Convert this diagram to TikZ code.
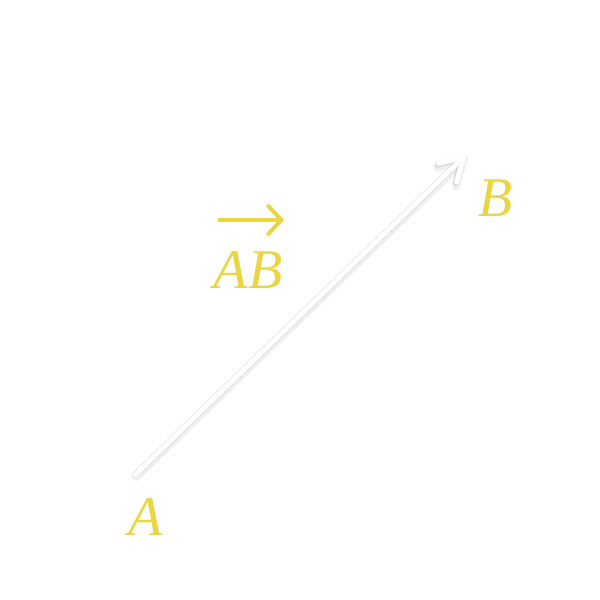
\documentclass[tikz,border=0pt]{standalone}
\usepackage{fontspec}
\setmainfont{Liberation Serif}
\usetikzlibrary{arrows.meta}
\definecolor{labyellow}{RGB}{233,214,64}
\definecolor{shadowgray}{RGB}{150,150,150}
\tikzset{
  lab/.style={text=labyellow, font=\fontsize{56}{60}\selectfont\itshape, inner sep=0pt},
  vecline/.style={line width=5pt, -{Straight Barb[length=22pt,width=26pt,line cap=round]}, line cap=round},
}
\begin{document}
\begin{tikzpicture}[x=1pt,y=-1pt]
\fill[white] (0,0) rectangle (600,600);
\useasboundingbox (0,0) rectangle (600,600);
\coordinate (p) at (135,475);
\coordinate (q) at (467,154);
% shadow
\draw[vecline, draw=shadowgray, opacity=0.14, line width=8pt, transform canvas={shift={(1.5pt,-2pt)}}] (p) -- (q);
\draw[vecline, draw=shadowgray, opacity=0.25, line width=6.5pt] (p) -- (q);
% arrow
\draw[vecline, draw=white] (p) -- (q);
% labels
\node[lab] (A) at (146,517) {A};
\node[lab] (B) at (496,198) {B};
\node[lab] (AB) at (248,270) {AB};
\coordinate (v1) at (218,220);
\coordinate (v2) at (284,220);
\draw[draw=labyellow, line width=4pt, -{Straight Barb[length=13pt,width=28pt,line cap=round]}] (v1) -- (v2);
\end{tikzpicture}
\end{document}
